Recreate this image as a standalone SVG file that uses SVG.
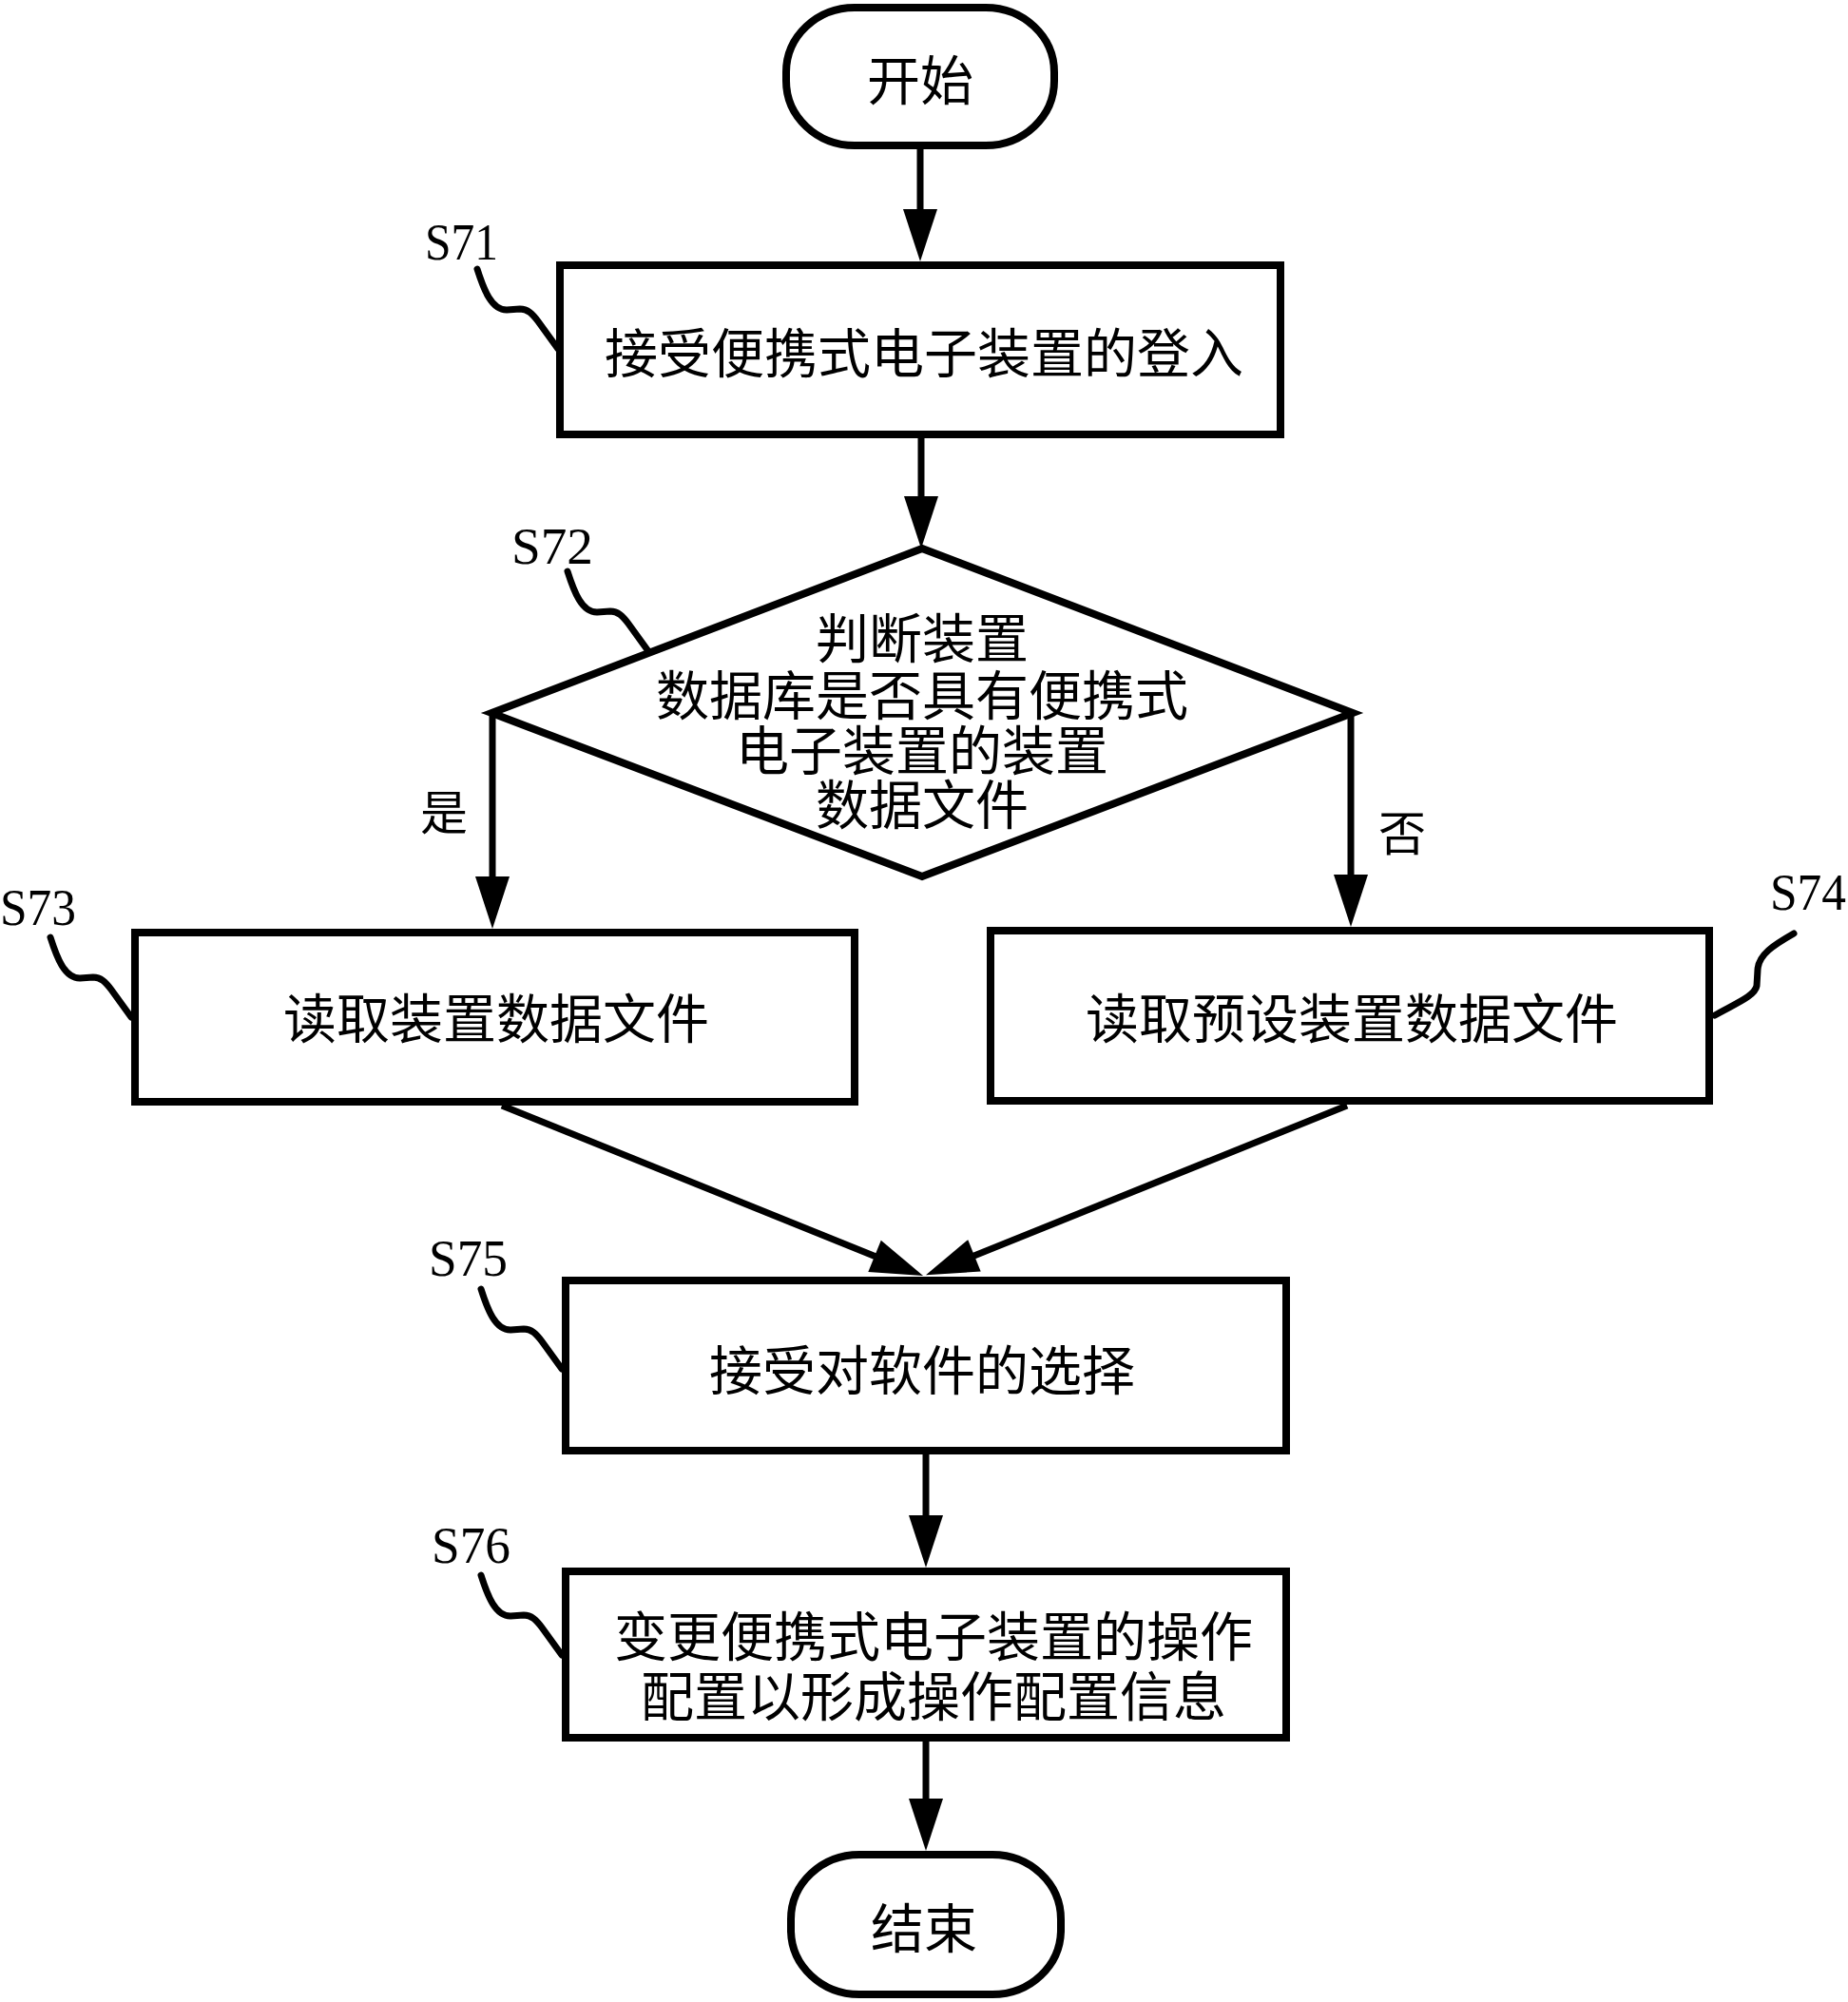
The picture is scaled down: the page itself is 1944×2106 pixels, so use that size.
<svg xmlns="http://www.w3.org/2000/svg" width="1944" height="2106" viewBox="0 0 1944 2106">
<style>
.box{fill:#fff;stroke:#000;stroke-width:8;stroke-linejoin:miter}
.cn{font-family:"Noto Sans CJK SC","Noto Sans",sans-serif;font-size:56px;fill:#000;text-anchor:middle;dominant-baseline:central}
.lbl{font-family:"Liberation Serif",serif;font-size:54px;fill:#000}
.lead{fill:none;stroke:#000;stroke-width:7;stroke-linecap:round;stroke-linejoin:round}
.conn{fill:none;stroke:#000;stroke-width:7}
</style>
<defs>
<marker id="arr" markerUnits="userSpaceOnUse" viewBox="-40 -20 62 40" markerWidth="62" markerHeight="40" refX="0" refY="0" orient="auto">
<path d="M20,0 L-35,-18 L-35,18 Z" fill="#000"/>
</marker>
<path id="leadL" d="M-85,-84 C-78,-62 -70,-41 -54,-41 L-40,-42 C-32,-42 -27,-37 -21,-29 L0,0"/>
</defs>

<g id="connectors">
<line class="conn" x1="968" y1="157" x2="968" y2="255" marker-end="url(#arr)"/>
<line class="conn" x1="969" y1="461" x2="969" y2="557" marker-end="url(#arr)"/>
<polyline class="conn" points="518,752 518,957" marker-end="url(#arr)"/>
<polyline class="conn" points="1421,750 1421,955" marker-end="url(#arr)"/>
<line class="conn" x1="528" y1="1163" x2="952.5" y2="1334.5" marker-end="url(#arr)"/>
<line class="conn" x1="1417" y1="1163" x2="992.5" y2="1333.9" marker-end="url(#arr)"/>
<line class="conn" x1="974" y1="1530" x2="974" y2="1629" marker-end="url(#arr)"/>
<line class="conn" x1="974" y1="1832" x2="974" y2="1927" marker-end="url(#arr)"/>
</g>

<g id="start">
<rect class="box" x="827" y="8" width="282" height="145" rx="72" ry="68"/>
<text class="cn" x="968" y="80">开始</text>
</g>

<g id="s71">
<rect class="box" x="589" y="279" width="758" height="178"/>
<text class="cn" x="972" y="367">接受便携式电子装置的登入</text>
<text class="lbl" x="447" y="273" textLength="77" lengthAdjust="spacingAndGlyphs">S71</text>
<use href="#leadL" class="lead" transform="translate(587,367)"/>
</g>

<g id="s72">
<polygon class="box" points="970,577 1423,750 970,922 517,750"/>
<text class="cn" x="970" y="667">判断装置</text>
<text class="cn" x="970" y="727">数据库是否具有便携式</text>
<text class="cn" x="970" y="785">电子装置的装置</text>
<text class="cn" x="970" y="842">数据文件</text>
<text class="lbl" x="538" y="593" textLength="86" lengthAdjust="spacingAndGlyphs">S72</text>
<use href="#leadL" class="lead" transform="translate(682,685)"/>
<text class="cn" x="467" y="851" style="font-size:50px">是</text>
<text class="cn" x="1475" y="873" style="font-size:50px">否</text>
</g>

<g id="s73">
<rect class="box" x="142" y="981" width="757" height="178"/>
<text class="cn" x="522" y="1067">读取装置数据文件</text>
<text class="lbl" x="0" y="973" textLength="80" lengthAdjust="spacingAndGlyphs">S73</text>
<use href="#leadL" class="lead" transform="translate(138,1070)"/>
</g>

<g id="s74">
<rect class="box" x="1042" y="979" width="756" height="179"/>
<text class="cn" x="1422" y="1067">读取预设装置数据文件</text>
<text class="lbl" x="1862" y="957" textLength="80" lengthAdjust="spacingAndGlyphs">S74</text>
<path class="lead" d="M1887,982 C1866,994 1850,1004 1849,1020 L1848,1037 C1846,1048 1825,1056 1804,1068"/>
</g>

<g id="s75">
<rect class="box" x="595" y="1347" width="758" height="179"/>
<text class="cn" x="970" y="1437">接受对软件的选择</text>
<text class="lbl" x="451" y="1342" textLength="83" lengthAdjust="spacingAndGlyphs">S75</text>
<use href="#leadL" class="lead" transform="translate(591,1440)"/>
</g>

<g id="s76">
<rect class="box" x="595" y="1653" width="758" height="175"/>
<text class="cn" x="982" y="1717">变更便携式电子装置的操作</text>
<text class="cn" x="982" y="1780">配置以形成操作配置信息</text>
<text class="lbl" x="454" y="1644" textLength="83" lengthAdjust="spacingAndGlyphs">S76</text>
<use href="#leadL" class="lead" transform="translate(591,1741)"/>
</g>

<g id="end">
<rect class="box" x="832" y="1951" width="284" height="147" rx="72" ry="68"/>
<text class="cn" x="972" y="2024">结束</text>
</g>
</svg>
